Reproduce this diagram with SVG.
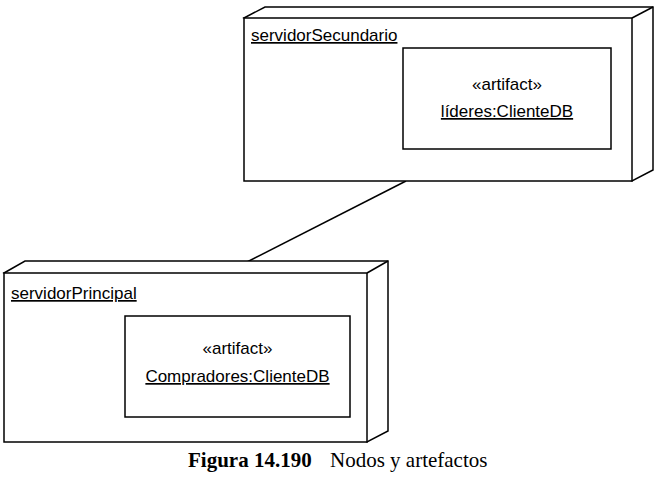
<svg xmlns="http://www.w3.org/2000/svg" width="658" height="483" viewBox="0 0 658 483">
<style>
.box{fill:#fff;stroke:#000;stroke-width:1.5}
.ln{fill:none;stroke:#000;stroke-width:1.5}
.t{font-family:"Liberation Sans",Arial,sans-serif;font-size:17px;fill:#000}
.u{text-decoration:underline}
.c{text-anchor:middle}
.cap{font-family:"Liberation Serif","Times New Roman",serif;font-size:21px;fill:#000}
</style>
<rect width="658" height="483" fill="#fff"/>
<g id="connectors">
<line class="ln" x1="406" y1="181" x2="247" y2="262"/>
</g>
<g id="servidorSecundario">
<path class="box" d="M244,18 L265,7 L653,7 L653,170 L632,181 Z"/>
<path class="ln" d="M632,18 L653,7"/>
<rect class="box" x="244" y="18" width="388" height="163"/>
<text class="t u" x="251" y="41">servidorSecundario</text>
</g>
<g id="artifactLideres">
<rect class="box" x="403" y="48" width="208" height="101"/>
<text class="t c" x="507" y="90">«artifact»</text>
<text class="t c u" x="507" y="117">líderes:ClienteDB</text>
</g>
<g id="servidorPrincipal">
<path class="box" d="M4,273 L25,261 L388,261 L388,431 L367,442 Z"/>
<path class="ln" d="M367,273 L388,261"/>
<rect class="box" x="4" y="273" width="363" height="169"/>
<text class="t u" x="11" y="299">servidorPrincipal</text>
</g>
<g id="artifactCompradores">
<rect class="box" x="125" y="316" width="225" height="101"/>
<text class="t c" x="237.5" y="354">«artifact»</text>
<text class="t c u" x="237.5" y="382">Compradores:ClienteDB</text>
</g>
<text class="cap" x="188" y="467"><tspan font-weight="bold">Figura 14.190</tspan><tspan x="330">Nodos y artefactos</tspan></text>
</svg>
